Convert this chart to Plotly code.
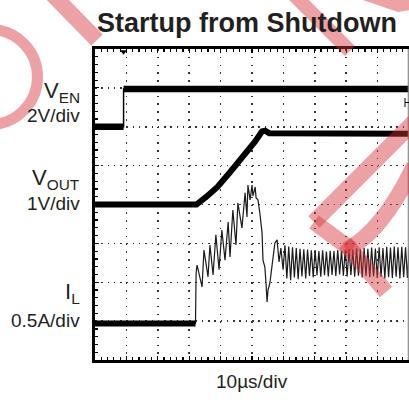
import plotly.graph_objects as go

# ---------------- data (time in µs, 10 µs/div; vertical in scope divisions) -------------
VEN_t = [0.0, 9.1, 9.1, 100.0]
VEN_v = [6.0, 6.0, 6.97, 6.97]

VOUT_t = [0.0, 32.3, 35.5, 39.0, 43.0, 47.0, 51.0, 53.2, 54.2, 55.5, 100.0]
VOUT_v = [4.0, 4.0, 4.2, 4.45, 4.83, 5.2, 5.62, 5.88, 5.9, 5.83, 5.82]

IL_t = [0.0, 32.0, 32.2, 32.5, 34.1, 34.7, 36.0, 36.6, 37.6, 38.5, 39.5, 40.4, 41.4, 42.4,
        43.0, 43.9, 44.9, 45.5, 46.8, 47.8, 48.4, 48.7, 49.4, 50.0, 50.3, 51.0, 51.3, 51.9,
        52.5, 53.2, 53.5, 54.1, 54.5, 54.8, 55.1, 55.7, 56.4, 57.3, 58.0, 58.6, 59.2, 59.9]
IL_v = [0.94, 0.94, 2.24, 2.44, 1.88, 2.83, 2.14, 2.96, 2.19, 3.22, 2.32, 3.34, 2.57, 3.55,
        2.65, 3.86, 2.96, 4.04, 3.40, 4.30, 3.68, 4.50, 4.12, 4.50, 4.22, 4.45, 4.17, 4.12,
        3.78, 3.27, 2.57, 2.39, 1.93, 1.49, 1.80, 1.98, 2.44, 3.01, 3.09, 2.52, 2.88, 2.32]

IL_ss_t = [60.5, 61.1, 61.7, 62.3, 62.9, 63.5, 64.1, 64.7, 65.3, 65.9, 66.5, 67.1, 67.7, 68.3,
           68.9, 69.5, 70.1, 70.7, 71.3, 71.9, 72.5, 73.1, 73.7, 74.3, 74.9, 75.5, 76.1, 76.7,
           77.3, 77.9, 78.5, 79.1, 79.7, 80.3, 80.9, 81.5, 82.1, 82.7, 83.3, 83.9, 84.5, 85.1,
           85.7, 86.3, 86.9, 87.5, 88.1, 88.7, 89.3, 89.9, 90.5, 91.1, 91.7, 92.3, 92.9, 93.5,
           94.1, 94.7, 95.3, 95.9, 96.5, 97.1, 97.7, 98.3, 98.9, 99.5, 100.1]
IL_ss_v = [2.95, 2.10, 2.92, 2.05, 2.90, 2.12, 2.88, 2.08, 2.86, 2.15, 2.85, 2.10, 2.84, 2.16,
           2.82, 2.12, 2.83, 2.18, 2.80, 2.14, 2.82, 2.18, 2.79, 2.15, 2.81, 2.19, 2.80, 2.16,
           2.83, 2.20, 2.81, 2.17, 2.84, 2.15, 2.86, 2.18, 2.84, 2.14, 2.87, 2.17, 2.85, 2.12,
           2.88, 2.16, 2.86, 2.13, 2.89, 2.15, 2.87, 2.11, 2.90, 2.14, 2.88, 2.10, 2.91, 2.13,
           2.89, 2.11, 2.92, 2.14, 2.90, 2.10, 2.91, 2.13, 2.90, 2.11, 2.92]

TRIG_t = [9.1]

TITLE = "Startup from Shutdown"
LABELS = [("V<sub>EN</sub>", "2V/div"), ("V<sub>OUT</sub>", "1V/div"), ("I<sub>L</sub>", "0.5A/div")]
XLABEL = "10µs/div"

# ---------------- layout helpers (pixel -> paper) ----------------
W, H = 409, 403
L, R, T, B = 95, 0, 49, 43
PW, PH = W - L - R, H - T - B


def xp(px):
    return (px - L) / PW


def yp(py):
    return (H - B - py) / PH


INK = "#231f20"
FONT = "Liberation Sans, Arial, Helvetica, sans-serif"

fig = go.Figure()

# V_EN: thin full trace + thick noisy flat levels
fig.add_trace(go.Scatter(x=VEN_t, y=VEN_v, mode="lines", line=dict(color="black", width=1.5),
                         hoverinfo="skip", showlegend=False))
fig.add_trace(go.Scatter(x=[VEN_t[0], VEN_t[1], None, VEN_t[2], VEN_t[3]],
                         y=[VEN_v[0], VEN_v[1], None, VEN_v[2], VEN_v[3]],
                         mode="lines", line=dict(color="black", width=6.5),
                         hoverinfo="skip", showlegend=False))
# V_OUT
fig.add_trace(go.Scatter(x=VOUT_t, y=VOUT_v, mode="lines", line=dict(color="black", width=6),
                         hoverinfo="skip", showlegend=False))
# I_L
fig.add_trace(go.Scatter(x=IL_t + IL_ss_t, y=IL_v + IL_ss_v, mode="lines",
                         line=dict(color="#1a1a1a", width=1.2),
                         hoverinfo="skip", showlegend=False))
fig.add_trace(go.Scatter(x=IL_t[:2], y=IL_v[:2], mode="lines", line=dict(color="black", width=6),
                         hoverinfo="skip", showlegend=False))
# trigger marker
fig.add_trace(go.Scatter(x=TRIG_t, y=[7.93], mode="markers",
                         marker=dict(symbol="triangle-down", size=6, color="black"),
                         cliponaxis=False, hoverinfo="skip", showlegend=False))

fig.update_xaxes(range=[0, 100], dtick=10, tick0=0, showticklabels=False,
                 showgrid=True, gridcolor="#333333", gridwidth=1.5, griddash="1.5px,6.28px",
                 showline=True, linecolor="black", linewidth=3, mirror="ticks",
                 ticks="inside", ticklen=4, tickcolor="black", tickwidth=1.2,
                 minor=dict(dtick=2, ticks="inside", ticklen=3, tickcolor="black", tickwidth=1.2,
                            showgrid=False),
                 zeroline=False, fixedrange=True)
fig.update_yaxes(range=[0, 8], dtick=1, tick0=0, showticklabels=False,
                 showgrid=True, gridcolor="#333333", gridwidth=1.5, griddash="1.5px,4.78px",
                 showline=True, linecolor="black", linewidth=3, mirror=False,
                 ticks="inside", ticklen=4, tickcolor="black", tickwidth=1.2,
                 minor=dict(dtick=0.2, ticks="inside", ticklen=3, tickcolor="black", tickwidth=1.2,
                            showgrid=False),
                 zeroline=False, fixedrange=True)

ann = []
ann.append(dict(text=f"<b>{TITLE}</b>", x=xp(247), y=yp(22.5), xref="paper", yref="paper",
                xanchor="center", yanchor="middle", showarrow=False,
                font=dict(family=FONT, size=27, color=INK)))
name_y = [92, 179, 293]
unit_y = [115, 203.5, 320]
for (nm, unit), ny, uy in zip(LABELS, name_y, unit_y):
    ann.append(dict(text=nm, x=xp(82), y=yp(ny), xref="paper", yref="paper",
                    xanchor="right", yanchor="middle", showarrow=False,
                    font=dict(family=FONT, size=22, color=INK)))
    ann.append(dict(text=unit, x=xp(82), y=yp(uy), xref="paper", yref="paper",
                    xanchor="right", yanchor="middle", showarrow=False,
                    font=dict(family=FONT, size=19, color=INK)))
ann.append(dict(text=XLABEL, x=xp(252), y=yp(381.5), xref="paper", yref="paper",
                xanchor="center", yanchor="middle", showarrow=False,
                font=dict(family=FONT, size=19, color=INK)))

shapes = []
# right border (grey, at image edge) and trigger-level marker
shapes.append(dict(type="line", xref="paper", yref="paper", x0=xp(408.3), x1=xp(408.3),
                   y0=0, y1=1, line=dict(color="#888888", width=1.2)))
shapes.append(dict(type="line", xref="paper", yref="paper", x0=xp(405), x1=xp(405),
                   y0=yp(98), y1=yp(107), line=dict(color="black", width=1)))
shapes.append(dict(type="line", xref="paper", yref="paper", x0=xp(405), x1=xp(409),
                   y0=yp(102.5), y1=yp(102.5), line=dict(color="black", width=1)))

# translucent watermark strokes
WM = dict(color="rgb(215,50,55)")
WM_OP = 0.45
shapes.append(dict(type="circle", xref="paper", yref="paper",
                   x0=xp(-10 - 47.5), x1=xp(-10 + 47.5), y0=yp(77 + 47.5), y1=yp(77 - 47.5),
                   line=dict(width=11, **WM), opacity=WM_OP, layer="above"))
for (a, b, c, d, w) in [(50, -8, 97, 40, 16), (291, -8, 350, 51, 14),
                        (314, 222, 414, 122, 16), (314, 222, 352, 250, 16),
                        (345, 243, 386, 292, 16)]:
    shapes.append(dict(type="line", xref="paper", yref="paper",
                       x0=xp(a), y0=yp(b), x1=xp(c), y1=yp(d),
                       line=dict(width=w, **WM), opacity=WM_OP, layer="above"))
shapes.append(dict(type="path", xref="paper", yref="paper",
                   path=f"M{xp(346)},{yp(250)} Q{xp(382)},{yp(232)} {xp(414)},{yp(166)}",
                   line=dict(width=16, **WM), opacity=WM_OP, layer="above"))
shapes.append(dict(type="path", xref="paper", yref="paper",
                   path=f"M{xp(357)},{yp(-2)} L{xp(410)},{yp(-2)} L{xp(410)},{yp(10)} L{xp(398)},{yp(12)} Z",
                   fillcolor=WM["color"], line=dict(width=0), opacity=WM_OP, layer="above"))

fig.update_layout(width=W, height=H, autosize=False,
                  margin=dict(l=L, r=R, t=T, b=B, pad=0),
                  paper_bgcolor="white", plot_bgcolor="white",
                  annotations=ann, shapes=shapes, showlegend=False)

fig.write_html("out.html", config={"displayModeBar": False, "staticPlot": True},
               post_script="document.body.style.margin='0px';document.body.style.overflow='hidden';")
